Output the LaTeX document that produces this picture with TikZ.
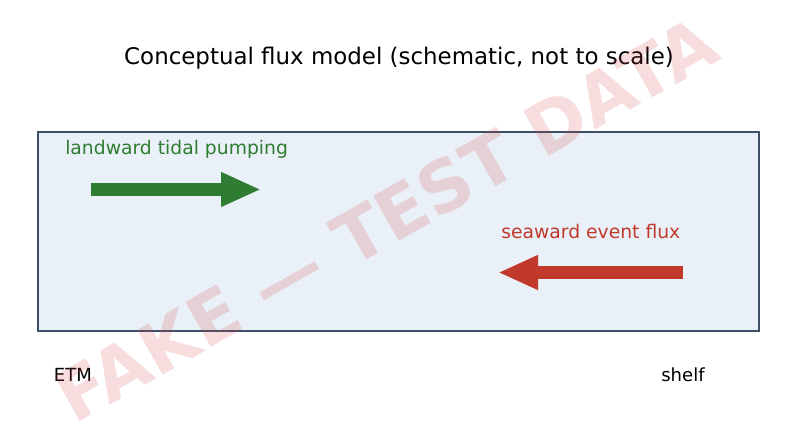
\documentclass[tikz,border=0pt]{standalone}
\usepackage{fontspec}
\setmainfont{DejaVu Sans}
\usetikzlibrary{arrows.meta}

\definecolor{boxfill}{HTML}{EAF0F7}
\definecolor{boxedge}{HTML}{3E5068}
\definecolor{landgreen}{HTML}{2E7D32}
\definecolor{seared}{HTML}{C0392B}
\definecolor{markred}{HTML}{D04040}

\begin{document}
\begin{tikzpicture}[
    x=0.72pt, y=-0.72pt,
    estuarybox/.style={draw=boxedge, fill=boxfill, line width=1.1pt},
    flux/.style={line width=9.5pt, -{Triangle[length=28.8pt, width=23pt]}},
    zonetext/.style={font=\fontsize{13.5}{16}\selectfont, inner sep=0pt},
    endtext/.style={font=\fontsize{13}{15}\selectfont, inner sep=0pt}
  ]
    \useasboundingbox (0,0) rectangle (797,446);

    % Title
    \node[font=\fontsize{16.5}{20}\selectfont, inner sep=0pt] (title) at (399,58)
      {Conceptual flux model (schematic, not to scale)};

    % Estuary box
    \draw[estuarybox] (38,132) rectangle (759,331);

    % Landward flux
    \node[zonetext, anchor=west, text=landgreen] (landlab) at (65,149) {landward tidal pumping};
    \coordinate (land0) at (91,189.5);
    \coordinate (land1) at (261,189.5);
    \draw[flux, landgreen] (land0) -- (land1);

    % Seaward flux
    \node[zonetext, anchor=west, text=seared] (sealab) at (501,232) {seaward event flux};
    \coordinate (sea0) at (683,272.5);
    \coordinate (sea1) at (498,272.5);
    \draw[flux, seared] (sea0) -- (sea1);

    % End members
    \node[endtext] (etm) at (73,375) {ETM};
    \node[endtext] (shelf) at (683,375) {shelf};

    % Watermark
    \node[font=\fontsize{51}{60}\selectfont\bfseries, text=markred, opacity=0.18,
      rotate=29.5, inner sep=0pt] (mark) at (386,219) {FAKE — TEST DATA};

  \end{tikzpicture}
\end{document}
